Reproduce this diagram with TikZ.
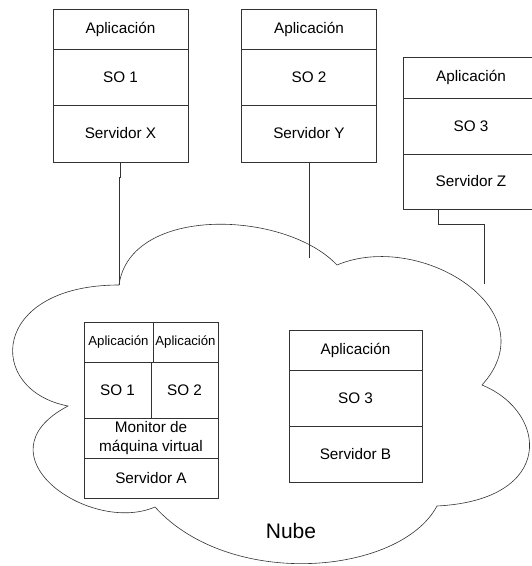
\documentclass[tikz,border=0pt]{standalone}
\usepackage{fontspec}
\setmainfont{Liberation Sans}
\usetikzlibrary{positioning}

\tikzset{
  capa/.style={draw=black!80, line width=0.6pt, minimum width=135pt, inner sep=0pt, outer sep=0pt, font=\fontsize{15.3}{19}\selectfont},
  app/.style={capa, minimum height=40pt},
  so/.style={capa, minimum height=56pt},
  hw/.style={capa, minimum height=57pt},
  abierta/.style={draw=none},
  enlace/.style={draw=black!80, line width=0.6pt},
}

\begin{document}
\begin{tikzpicture}[x=1pt,y=-1pt]
  \useasboundingbox (0,0) rectangle (532,566);

  % servidores fisicos
  \node[app] (appX) at (120.5,29) {Aplicación};
  \node[so, below=0pt of appX] (soX) {SO 1};
  \node[hw, below=0pt of soX] (srvX) {Servidor X};

  \node[app] (appY) at (309,29) {Aplicación};
  \node[so, below=0pt of appY] (soY) {SO 2};
  \node[hw, below=0pt of soY] (srvY) {Servidor Y};

  % la caja Z queda cortada por el borde derecho
  \node[app, abierta, minimum height=41pt] (appZ) at (471,77.5) {Aplicación};
  \node[so, abierta, below=0pt of appZ] (soZ) {SO 3};
  \node[hw, abierta, minimum height=55pt, below=0pt of soZ] (srvZ) {Servidor Z};
  \draw[enlace] (532,0 |- appZ.north) -- (appZ.north west) -- (srvZ.south west) -- (532,0 |- srvZ.south);
  \draw[enlace] (appZ.south west) -- (532,0 |- appZ.south);
  \draw[enlace] (soZ.south west) -- (532,0 |- soZ.south);

  % nube
  \coordinate (c1) at (119,285);
  \coordinate (c2) at (337,265);
  \coordinate (c3) at (482,385);
  \coordinate (c4) at (437,506);
  \coordinate (c5) at (155,507);
  \coordinate (c6) at (68,406);
  \draw[enlace] (c1) .. controls (130,205) and (285,210) .. (c2)
                .. controls (420,230) and (550,310) .. (c3)
                .. controls (548,412) and (556,500) .. (c4)
                .. controls (400,575) and (230,590) .. (c5)
                .. controls (90,535) and (-25,455) .. (c6)
                .. controls (-15,390) and (-10,285) .. (c1);
  \node[font=\fontsize{21}{24}\selectfont] (nube) at (291,531) {Nube};

  % conexiones
  \coordinate (finY) at (309,258);
  \coordinate (finZ) at (484,284);
  \draw[enlace] (srvX.south) -- ++(0,15) -| (c1);
  \draw[enlace] (srvY.south) -- (finY);
  \draw[enlace] ([xshift=35pt]srvZ.south west) -- ++(0,15) -| (finZ);

  % servidor virtualizado
  \node[capa, minimum width=69pt, minimum height=40pt, anchor=north west,
        font=\fontsize{13.2}{16}\selectfont] (appA1) at (84,322) {Aplicación};
  \node[capa, minimum width=65pt, minimum height=40pt, right=0pt of appA1,
        font=\fontsize{13.2}{16}\selectfont] (appA2) {Aplicación};
  \node[so, minimum width=67pt, anchor=north west] (soA1) at (appA1.south west) {SO 1};
  \node[so, minimum width=67pt, right=0pt of soA1] (soA2) {SO 2};
  \node[capa, minimum width=134pt, minimum height=40pt, anchor=north west,
        align=center] (vmm) at (soA1.south west) {Monitor de\\máquina virtual};
  \node[capa, minimum width=134pt, minimum height=40pt, below=0pt of vmm] (srvA) {Servidor A};

  % servidor B
  \node[app, minimum width=133pt] (appB) at (355.5,350) {Aplicación};
  \node[so, minimum width=133pt, below=0pt of appB] (soB) {SO 3};
  \node[so, minimum width=133pt, below=0pt of soB] (srvB) {Servidor B};
\end{tikzpicture}
\end{document}
